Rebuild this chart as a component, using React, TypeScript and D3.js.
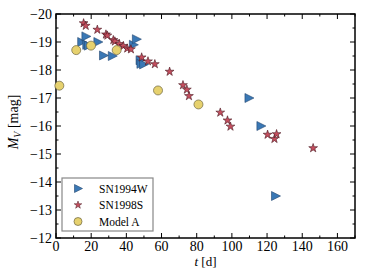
import { useEffect, useRef } from "react";
import * as d3 from "d3";

// SN1994W (triangles)
const sn94T = [14.6, 17, 17.5, 18.4, 23.8, 27, 32, 44, 45.7, 47.8, 48.3, 49.8, 109.7, 116.5, 124.8];
const sn94M = [-19.0, -19.2, -18.9, -18.87, -19.0, -18.52, -18.5, -18.9, -19.1, -18.35, -18.22, -18.2, -17.0, -16.0, -13.5];

// SN1998S (stars)
const sn98T = [15.7, 16.9, 23.5, 28.4, 29.2, 32.6, 33.5, 36, 38.3, 40.5, 42.6, 48.7, 52.3, 56.2, 64.6, 72.2, 74.4, 75.6, 93.4, 97.5, 99.2, 120.3, 124.2, 125.4, 146.2];
const sn98M = [-19.67, -19.58, -19.44, -19.27, -19.23, -19.07, -19.02, -18.93, -18.86, -18.77, -18.74, -18.45, -18.31, -18.21, -17.94, -17.46, -17.3, -17.07, -16.48, -16.2, -15.98, -15.69, -15.54, -15.71, -15.21];

// Model A (circles)
const modelT = [1.9, 11.5, 19.9, 34.5, 58, 81];
const modelM = [-17.44, -18.71, -18.87, -18.71, -17.27, -16.77];

const xTicks = [0, 20, 40, 60, 80, 100, 120, 140, 160];
const yTicks = [-20, -19, -18, -17, -16, -15, -14, -13, -12];

const W = 374;
const H = 280;
const M = { left: 56, right: 19, top: 14, bottom: 42 };

const BLUE = "#3a78b5";
const RED = "#c44e5e";
const YELLOW = "#e6d16e";
const FONT = "'Liberation Serif', 'DejaVu Serif', serif";

const tri = "M-4,-4.5 L5,0 L-4,4.5 Z";
const star = d3.symbol(d3.symbolStar, 24)() as string;

export default function App() {
  const ref = useRef<SVGSVGElement>(null);

  useEffect(() => {
    const svg = d3.select(ref.current);
    svg.selectAll("*").remove();

    const x = d3.scaleLinear().domain([0, 170]).range([M.left, W - M.right]);
    const y = d3.scaleLinear().domain([-20, -12]).range([M.top, H - M.bottom]);
    const x0 = M.left, x1 = W - M.right, y0 = M.top, y1 = H - M.bottom;

    const g = svg.append("g");

    // ticks (inward, all four sides)
    const ticks = g.append("g").attr("stroke", "#000");
    const xMinor = d3.range(0, 171, 10);
    const yMinor = d3.range(-20, -11.9, 0.5);
    xMinor.forEach((v) => {
      const major = v % 20 === 0;
      const len = major ? 5 : 2.5;
      ticks.append("line").attr("x1", x(v)).attr("x2", x(v)).attr("y1", y1).attr("y2", y1 - len).attr("stroke-width", 1);
      ticks.append("line").attr("x1", x(v)).attr("x2", x(v)).attr("y1", y0).attr("y2", y0 + len).attr("stroke-width", 1);
    });
    yMinor.forEach((v) => {
      const major = Math.abs(v - Math.round(v)) < 1e-6;
      const len = major ? 5 : 2.5;
      ticks.append("line").attr("y1", y(v)).attr("y2", y(v)).attr("x1", x0).attr("x2", x0 + len).attr("stroke-width", 1);
      ticks.append("line").attr("y1", y(v)).attr("y2", y(v)).attr("x1", x1).attr("x2", x1 - len).attr("stroke-width", 1);
    });

    g.append("rect")
      .attr("x", x0).attr("y", y0).attr("width", x1 - x0).attr("height", y1 - y0)
      .attr("fill", "none").attr("stroke", "#000").attr("stroke-width", 1.5);

    // tick labels
    g.append("g").selectAll("text").data(xTicks).join("text")
      .attr("x", (d) => x(d)).attr("y", y1 + 13)
      .attr("text-anchor", "middle").attr("font-family", FONT).attr("font-size", 14)
      .text((d) => String(d));
    g.append("g").selectAll("text").data(yTicks).join("text")
      .attr("x", x0 - 4).attr("y", (d) => y(d)).attr("dy", "0.35em")
      .attr("text-anchor", "end").attr("font-family", FONT).attr("font-size", 14)
      .text((d) => `\u2212${Math.abs(d)}`);

    // axis labels
    const xl = g.append("text").attr("x", (x0 + x1) / 2).attr("y", y1 + 28)
      .attr("text-anchor", "middle").attr("font-family", FONT).attr("font-size", 13);
    xl.append("tspan").attr("font-style", "italic").text("t");
    xl.append("tspan").text(" [d]");

    const yl = g.append("text").attr("transform", `translate(18,${(y0 + y1) / 2 - 4}) rotate(-90)`)
      .attr("text-anchor", "middle").attr("font-family", FONT).attr("font-size", 14);
    yl.append("tspan").attr("font-style", "italic").text("M");
    yl.append("tspan").attr("font-style", "italic").attr("font-size", 10).attr("dy", 3).text("V");
    yl.append("tspan").attr("dy", -3).text(" [mag]");

    // data
    g.append("g").selectAll("path").data(sn94T.map((t, i) => [t, sn94M[i]])).join("path")
      .attr("d", tri).attr("transform", (d) => `translate(${x(d[0])},${y(d[1])})`)
      .attr("fill", BLUE).attr("stroke", "#23476e").attr("stroke-width", 0.6);

    g.append("g").selectAll("path").data(sn98T.map((t, i) => [t, sn98M[i]])).join("path")
      .attr("d", star).attr("transform", (d) => `translate(${x(d[0])},${y(d[1])})`)
      .attr("fill", RED).attr("stroke", "#4a1a22").attr("stroke-width", 0.6);

    g.append("g").selectAll("circle").data(modelT.map((t, i) => [t, modelM[i]])).join("circle")
      .attr("cx", (d) => x(d[0])).attr("cy", (d) => y(d[1])).attr("r", 4.5)
      .attr("fill", YELLOW).attr("stroke", "#6b6440").attr("stroke-width", 0.7);

    // legend
    const lg = g.append("g").attr("transform", "translate(62,178)");
    lg.append("rect").attr("width", 91).attr("height", 53)
      .attr("fill", "#fff").attr("stroke", "#888").attr("stroke-width", 1.2);
    const items = [
      { label: "SN1994W", kind: "tri" },
      { label: "SN1998S", kind: "star" },
      { label: "Model A", kind: "circle" },
    ];
    items.forEach((it, i) => {
      const cy = 10.5 + i * 16.5;
      if (it.kind === "tri") {
        lg.append("path").attr("d", "M-3.5,-4 L4.5,0 L-3.5,4 Z").attr("transform", `translate(16,${cy})`)
          .attr("fill", BLUE).attr("stroke", "#23476e").attr("stroke-width", 0.6);
      } else if (it.kind === "star") {
        lg.append("path").attr("d", d3.symbol(d3.symbolStar, 18)() as string).attr("transform", `translate(16,${cy})`)
          .attr("fill", RED).attr("stroke", "#4a1a22").attr("stroke-width", 0.5);
      } else {
        lg.append("circle").attr("cx", 16).attr("cy", cy).attr("r", 4)
          .attr("fill", YELLOW).attr("stroke", "#6b6440").attr("stroke-width", 0.7);
      }
      lg.append("text").attr("x", 37).attr("y", cy).attr("dy", "0.35em")
        .attr("font-family", FONT).attr("font-size", 11.5).text(it.label);
    });
  }, []);

  return (
    <svg ref={ref} width={W} height={H} style={{ position: "absolute", left: 0, top: 0, background: "#fff" }} />
  );
}
